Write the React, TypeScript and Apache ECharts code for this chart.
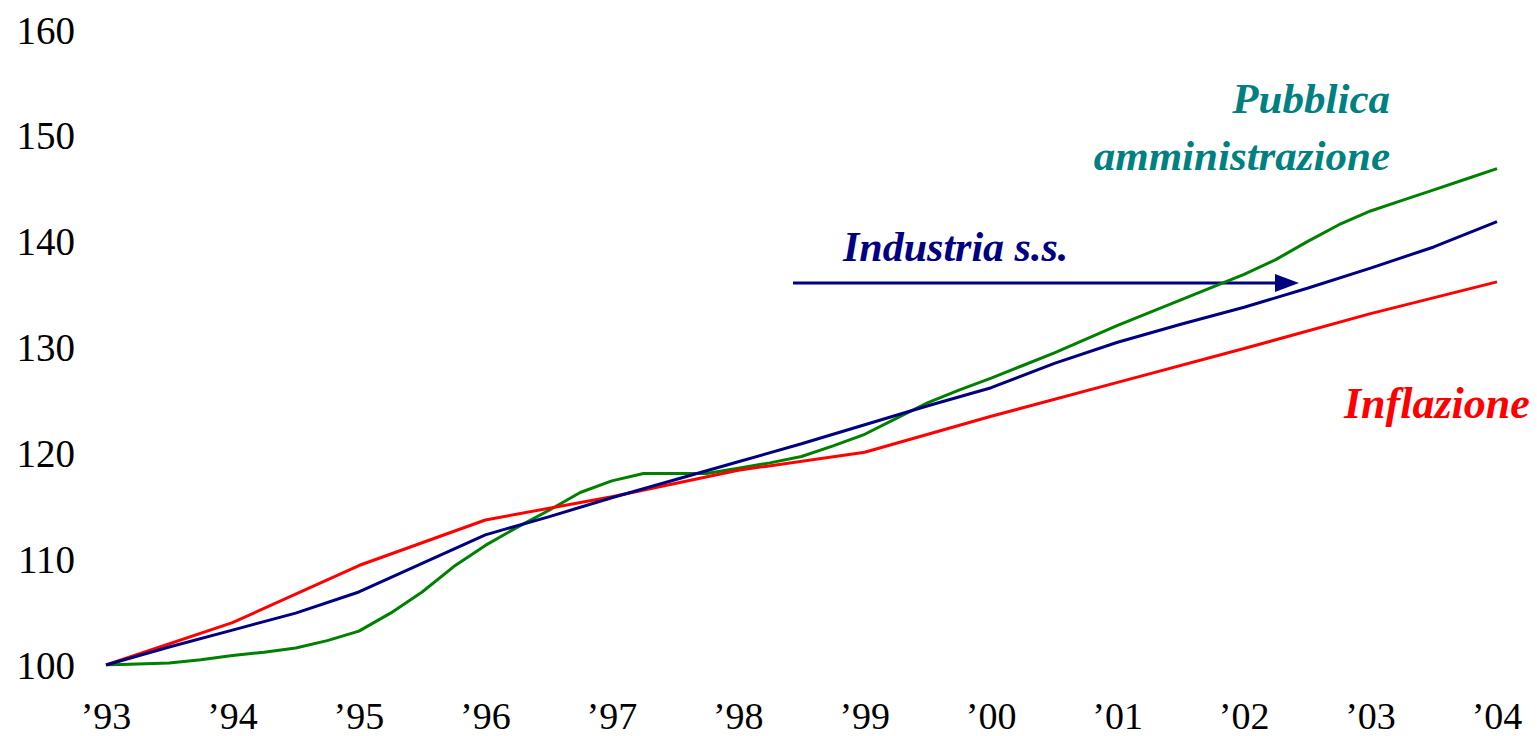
import React, { useEffect, useRef } from "react";
import * as echarts from "echarts";

// Quarterly observations (Pubblica amministrazione)
const paYears = [
  1993.0, 1993.25, 1993.5, 1993.75, 1994.0, 1994.25, 1994.5, 1994.75,
  1995.0, 1995.25, 1995.5, 1995.75, 1996.0, 1996.25, 1996.5, 1996.75,
  1997.0, 1997.25, 1997.5, 1997.75, 1998.0, 1998.25, 1998.5, 1998.75,
  1999.0, 1999.25, 1999.5, 1999.75, 2000.0, 2000.25, 2000.5, 2000.75,
  2001.0, 2001.25, 2001.5, 2001.75, 2002.0, 2002.25, 2002.5, 2002.75,
  2003.0, 2003.25, 2003.5, 2003.75, 2004.0,
];
const paValues = [
  100.0, 100.1, 100.2, 100.5, 100.9, 101.2, 101.6, 102.3,
  103.2, 104.9, 106.9, 109.3, 111.3, 113.0, 114.6, 116.3,
  117.4, 118.1, 118.1, 118.1, 118.6, 119.1, 119.7, 120.7,
  121.8, 123.3, 124.8, 126.0, 127.1, 128.3, 129.5, 130.8,
  132.1, 133.3, 134.5, 135.7, 136.9, 138.3, 140.0, 141.6,
  142.9, 143.9, 144.9, 145.9, 146.9,
];

// Half-yearly observations (Industria s.s.)
const indYears = [
  1993.0, 1993.5, 1994.0, 1994.5, 1995.0, 1995.5, 1996.0, 1996.5,
  1997.0, 1997.5, 1998.0, 1998.5, 1999.0, 1999.5, 2000.0, 2000.5,
  2001.0, 2001.5, 2002.0, 2002.5, 2003.0, 2003.5, 2004.0,
];
const indValues = [
  100.0, 101.7, 103.3, 104.9, 106.9, 109.6, 112.3, 114.0,
  115.8, 117.5, 119.2, 120.9, 122.7, 124.5, 126.2, 128.5,
  130.5, 132.2, 133.8, 135.6, 137.5, 139.5, 141.9,
];

// Annual observations (Inflazione)
const infYears = [1993, 1994, 1995, 1996, 1997, 1998, 1999, 2000, 2001, 2002, 2003, 2004];
const infValues = [100.0, 104.0, 109.4, 113.7, 115.9, 118.4, 120.1, 123.5, 126.7, 129.9, 133.2, 136.2];

const yTicks = { min: 100, max: 160, interval: 10 };
const xTicks = { min: 1993, max: 2004, interval: 1 };

const labels = {
  pa1: "Pubblica",
  pa2: "amministrazione",
  ind: "Industria s.s.",
  inf: "Inflazione",
};

const FONT = "'Liberation Serif', 'Times New Roman', serif";

const pair = (xs: number[], ys: number[]) => xs.map((x, i) => [x, ys[i]]);

export default function App() {
  const ref = useRef<HTMLDivElement>(null);
  useEffect(() => {
    if (!ref.current) return;
    const chart = echarts.init(ref.current, undefined, { renderer: "svg" });
    const annotationFont = (size: number) => ({
      fontFamily: FONT,
      fontSize: size,
      fontWeight: "bold" as const,
      fontStyle: "italic" as const,
    });
    chart.setOption({
      animation: false,
      backgroundColor: "#ffffff",
      grid: { left: 106, right: 40, top: 30, bottom: 71, containLabel: false },
      xAxis: {
        type: "value",
        min: xTicks.min,
        max: xTicks.max,
        interval: xTicks.interval,
        axisLine: { show: false },
        axisTick: { show: false },
        splitLine: { show: false },
        axisLabel: {
          color: "#000",
          fontFamily: FONT,
          fontSize: 38,
          margin: 32,
          formatter: (v: number) => "\u2019" + String(v).slice(2),
        },
      },
      yAxis: {
        type: "value",
        min: yTicks.min,
        max: yTicks.max,
        interval: yTicks.interval,
        axisLine: { show: false },
        axisTick: { show: false },
        splitLine: { show: false },
        axisLabel: {
          color: "#000",
          fontFamily: FONT,
          fontSize: 39,
          margin: 31,
        },
      },
      series: [
        {
          type: "line",
          name: labels.inf,
          data: pair(infYears, infValues),
          showSymbol: false,
          lineStyle: { color: "#ff0000", width: 3 },
          z: 3,
        },
        {
          type: "line",
          name: labels.ind,
          data: pair(indYears, indValues),
          showSymbol: false,
          lineStyle: { color: "#000080", width: 3 },
          z: 4,
        },
        {
          type: "line",
          name: labels.pa2,
          data: pair(paYears, paValues),
          showSymbol: false,
          lineStyle: { color: "#008000", width: 3 },
          z: 2,
        },
      ],
      graphic: [
        {
          type: "text",
          right: 1537 - 1390,
          top: 77,
          style: { text: labels.pa1, fill: "#008080", ...annotationFont(43), textAlign: "right" },
        },
        {
          type: "text",
          right: 1537 - 1390,
          top: 134,
          style: { text: labels.pa2, fill: "#008080", ...annotationFont(43), textAlign: "right" },
        },
        {
          type: "text",
          left: 843,
          top: 226,
          style: { text: labels.ind, fill: "#000080", ...annotationFont(42) },
        },
        {
          type: "text",
          left: 1344,
          top: 381,
          style: { text: labels.inf, fill: "#ff0000", ...annotationFont(44) },
        },
        {
          type: "line",
          shape: { x1: 793, y1: 283, x2: 1280, y2: 283 },
          style: { stroke: "#000080", lineWidth: 3 },
        },
        {
          type: "polygon",
          shape: { points: [[1275, 274], [1299, 283], [1275, 292]] },
          style: { fill: "#000080" },
        },
      ],
    });
    return () => chart.dispose();
  }, []);
  return (
    <div
      ref={ref}
      style={{ position: "fixed", left: 0, top: 0, width: 1537, height: 736, background: "#fff" }}
    />
  );
}
